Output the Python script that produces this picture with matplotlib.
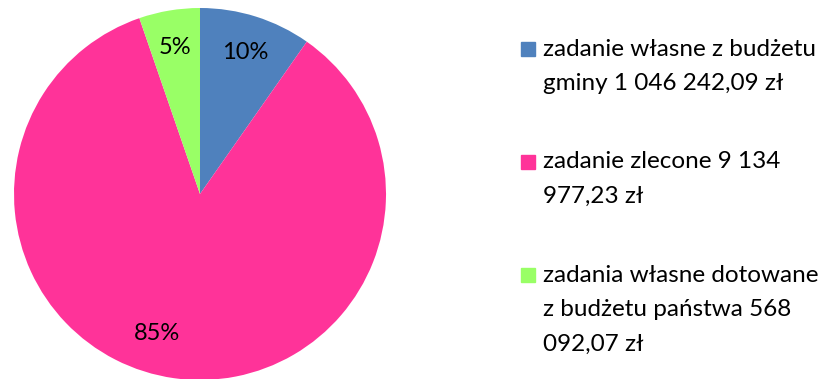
import matplotlib
matplotlib.use("Agg")
import matplotlib.pyplot as plt
from matplotlib.patches import Rectangle

plt.rcParams['font.family'] = ['Lato', 'DejaVu Sans']

# kwoty w zł
labels = ["zadanie własne z budżetu\ngminy 1 046 242,09 zł",
          "zadanie zlecone 9 134\n977,23 zł",
          "zadania własne dotowane\nz budżetu państwa 568\n092,07 zł"]
values = [1046242.09, 9134977.23, 568092.07]
colors = ["#4F81BD", "#FF3399", "#99FF66"]

W, H = 827, 379
fig = plt.figure(figsize=(W / 100, H / 100), dpi=100)

# pie: center (200, 194) px, radius 186 px
cx, cy, r = 200, 194, 186
ax = fig.add_axes([(cx - r) / W, (H - cy - r) / H, 2 * r / W, 2 * r / H])
wedges, texts, autotexts = ax.pie(values, colors=colors, startangle=90,
                                  counterclock=False, autopct='%1.0f%%',
                                  pctdistance=0.8, radius=1,
                                  textprops=dict(fontsize=17, color='black'))
ax.set_xlim(-1, 1)
ax.set_ylim(-1, 1)
ax.set_aspect('equal')
ax.axis('off')
# shift the big label a bit to the left like in the spreadsheet layout
autotexts[1].set_position((-0.23, -0.75))

# legend drawn by hand: square + wrapped lines
line_h = 34.5
gap = 44
y = 49
for lab, col in zip(labels, colors):
    fig.patches.append(Rectangle((521 / W, 1 - (y + 7) / H), 14 / W, 14 / H,
                                 transform=fig.transFigure, color=col))
    for i, line in enumerate(lab.split("\n")):
        fig.text(543 / W, 1 - (y + i * line_h) / H, line, fontsize=17.5,
                 va='center', ha='left')
    y += len(lab.split("\n")) * line_h + gap

fig.savefig("out.png", dpi=100)
